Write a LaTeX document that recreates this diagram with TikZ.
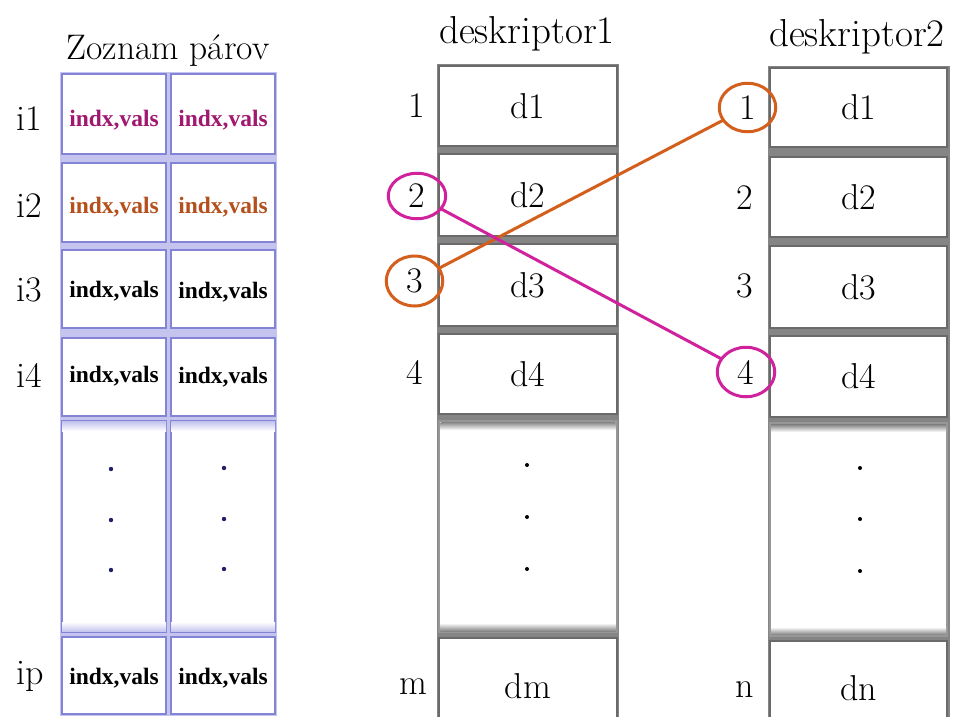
\documentclass[tikz,border=0pt]{standalone}
\usepackage{fontspec}
\newfontfamily\cellfont{Liberation Serif}
\usetikzlibrary{shapes.geometric}
\definecolor{lav}{HTML}{8484D6}
\definecolor{lavfill}{HTML}{C4C4EE}
\definecolor{boxgray}{HTML}{6A6A6A}
\definecolor{bandgray}{HTML}{858585}
\definecolor{mag}{HTML}{D0229C}
\definecolor{org}{HTML}{D45F1C}
\definecolor{magtxt}{HTML}{A0186F}
\definecolor{orgtxt}{HTML}{B4501C}
\definecolor{navy}{HTML}{20206A}
\begin{document}
\begin{tikzpicture}[x=1pt,y=-1pt,
  cellbox/.style={draw=lav, line width=1.3pt, fill=white, inner sep=0pt, outer sep=0pt, minimum width=104pt},
  dbox/.style={draw=boxgray, line width=2.4pt, fill=white, inner sep=0pt, outer sep=0pt, font=\fontsize{36}{42}\selectfont},
  celltxt/.style={font=\cellfont\fontsize{23.5}{28}\selectfont\bfseries, inner sep=0pt},
  numlbl/.style={font=\fontsize{36}{42}\selectfont, inner sep=0pt},
  ttl/.style={font=\fontsize{39}{46}\selectfont, inner sep=0pt},
  ring/.style={ellipse, line width=3pt, inner sep=0pt, outer sep=0pt, font=\fontsize{36}{42}\selectfont},
  dotl/.style={fill=navy},
  dotd/.style={fill=black}]
\useasboundingbox (0,0) rectangle (955,716);
\fill[white] (0,0) rectangle (955,716);

% ---------------- left table ----------------
\node[ttl, font=\fontsize{35.5}{42}\selectfont] (tZ) at (168,51) {Zoznam párov};
\fill[lavfill] (60,72) rectangle (277,716);
\foreach \cx/\cn in {114/1,223/2}{
  \node[cellbox, minimum height=80pt] (r1c\cn) at (\cx,114) {};
  \node[cellbox, minimum height=79pt] (r2c\cn) at (\cx,202.5) {};
  \node[cellbox, minimum height=78pt] (r3c\cn) at (\cx,289) {};
  \node[cellbox, minimum height=78pt] (r4c\cn) at (\cx,377) {};
  \node[cellbox, minimum height=211pt] (rdc\cn) at (\cx,526.5) {};
  \node[cellbox, minimum height=77pt] (rpc\cn) at (\cx,675.5) {};
}
\shade[top color=lavfill, bottom color=white] (62,421.5) rectangle (166,431);
\shade[top color=lavfill, bottom color=white] (171,421.5) rectangle (275,431);
\shade[top color=white, bottom color=lavfill] (62,622) rectangle (166,631.5);
\shade[top color=white, bottom color=lavfill] (171,622) rectangle (275,631.5);

\node[celltxt, text=magtxt] (x11) at (114,120) {indx,vals};
\node[celltxt, text=magtxt] (x12) at (223,120) {indx,vals};
\node[celltxt, text=orgtxt] (x21) at (114,207.5) {indx,vals};
\node[celltxt, text=orgtxt] (x22) at (223,207.5) {indx,vals};
\node[celltxt] (x31) at (114,291) {indx,vals};
\node[celltxt] (x32) at (223,292) {indx,vals};
\node[celltxt] (x41) at (114,376) {indx,vals};
\node[celltxt] (x42) at (223,377) {indx,vals};
\node[celltxt] (xp1) at (114,678) {indx,vals};
\node[celltxt] (xp2) at (223,678) {indx,vals};
\foreach \yy in {469,520,570}{
  \fill[dotl] (111,\yy) circle (2.2);
  \fill[dotl] (224,\yy-1) circle (2.2);
}
\node[numlbl] (i1) at (29,119) {i1};
\node[numlbl] (i2) at (29,206) {i2};
\node[numlbl] (i3) at (29,290) {i3};
\node[numlbl] (i4) at (29,375) {i4};
\node[numlbl] (ip) at (30,676) {ip};

% ---------------- deskriptor1 ----------------
\node[ttl] (tD1) at (527,34) {deskriptor1};
\fill[bandgray] (437,64) rectangle (619,720);
\node[dbox, minimum width=178pt, minimum height=80pt] (a1) at (528,106) {d1};
\node[dbox, minimum width=178pt, minimum height=82pt] (a2) at (528,195) {d2};
\node[dbox, minimum width=178pt, minimum height=82pt] (a3) at (528,285) {d3};
\node[dbox, minimum width=178pt, minimum height=80pt] (a4) at (528,374) {d4};
\node[dbox, draw=boxgray!70, minimum width=178pt, minimum height=211pt] (ad) at (528,526.5) {};
\node[dbox, minimum width=178pt, minimum height=96pt] (am) at (528,686) {dm};
\shade[top color=bandgray, bottom color=white] (440.5,422) rectangle (615.5,430);
\shade[top color=white, bottom color=bandgray] (440.5,623) rectangle (615.5,631);
\foreach \yy in {465,517,569} \fill[dotd] (527,\yy) circle (2);
\node[numlbl] (n1a) at (417,106) {1};
\node[ring, draw=mag, minimum width=57.5pt, minimum height=45.5pt] (c2) at (417,196) {2};
\node[ring, draw=org, minimum width=56.5pt, minimum height=50pt] (c3) at (414.5,281) {3};
\node[numlbl] (n4a) at (415,372) {4};
\node[numlbl] (nma) at (413,687) {m};

% ---------------- deskriptor2 ----------------
\node[ttl] (tD2) at (857,37) {deskriptor2};
\fill[bandgray] (768,66) rectangle (950,720);
\node[dbox, minimum width=177pt, minimum height=79pt] (b1) at (858.5,107.5) {d1};
\node[dbox, minimum width=177pt, minimum height=80pt] (b2) at (858.5,197) {d2};
\node[dbox, minimum width=177pt, minimum height=82pt] (b3) at (858.5,287) {d3};
\node[dbox, minimum width=177pt, minimum height=81pt] (b4) at (858.5,376.5) {d4};
\node[dbox, draw=boxgray!70, minimum width=177pt, minimum height=213pt] (bd) at (858.5,529.5) {};
\node[dbox, minimum width=177pt, minimum height=94pt] (bn) at (858.5,688) {dn};
\shade[top color=bandgray, bottom color=white] (771,424.5) rectangle (946,432);
\shade[top color=white, bottom color=bandgray] (771,627) rectangle (946,634.5);
\foreach \yy in {468,519,571} \fill[dotd] (860,\yy) circle (2);
\node[ring, draw=org, minimum width=56.5pt, minimum height=48.5pt] (e1) at (747.5,107.5) {1};
\node[numlbl] (n2b) at (745,198) {2};
\node[numlbl] (n3b) at (745,286) {3};
\node[ring, draw=mag, minimum width=57.5pt, minimum height=49.5pt] (e4) at (746,372) {4};
\node[numlbl] (nnb) at (745,690) {n};

% ---------------- connectors ----------------
\draw[org, line width=3pt] (c3) -- (e1);
\draw[mag, line width=3pt] (c2) -- (e4);
\end{tikzpicture}
\end{document}
